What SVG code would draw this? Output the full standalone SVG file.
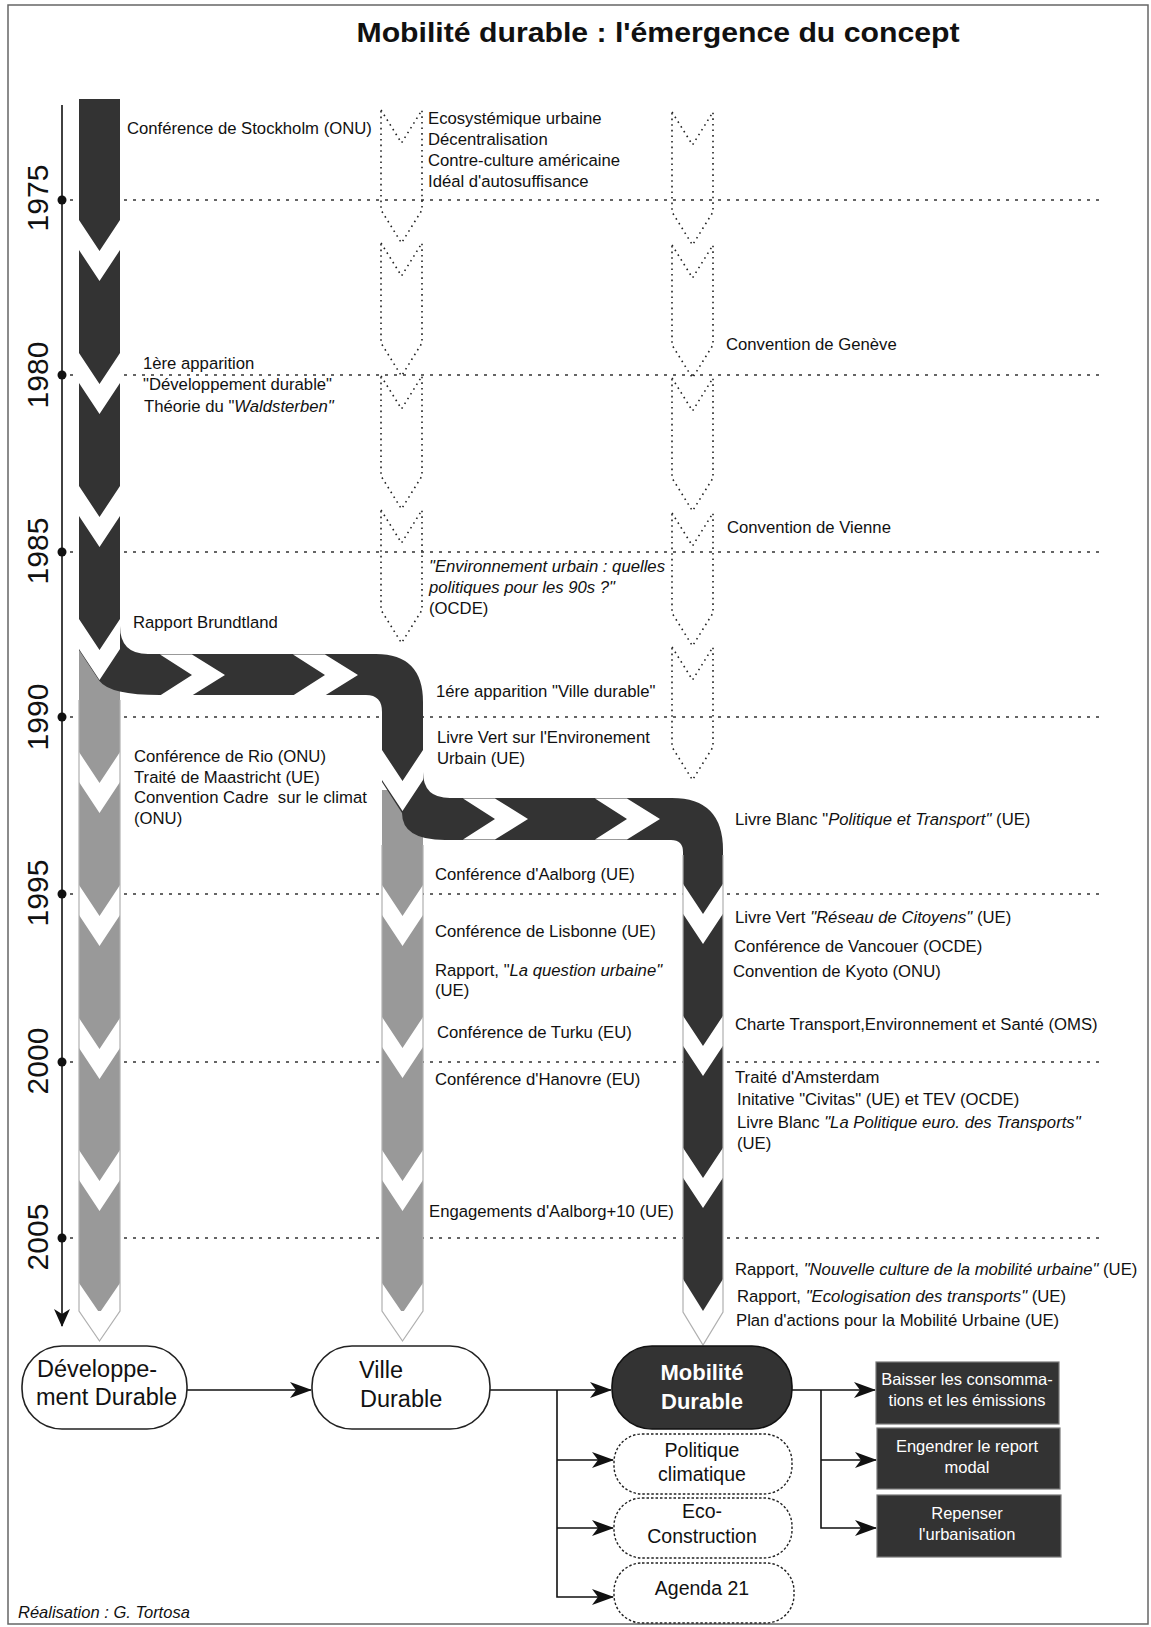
<svg xmlns="http://www.w3.org/2000/svg" xmlns:xlink="http://www.w3.org/1999/xlink" width="1151" height="1627" viewBox="0 0 1151 1627">
<defs>
<style>
text{font-family:"Liberation Sans",Arial,sans-serif;fill:#111;}
.t{font-size:16.7px;}
.i{font-style:italic;}
.yr{font-size:30px;text-anchor:middle;}
.grid{stroke:#333;stroke-width:1.5;stroke-dasharray:3 6;fill:none;}
.dot{fill:none;stroke:#222;stroke-width:1.6;stroke-dasharray:1.6 4;}
.chev{fill:#fff;}
.edge{fill:none;stroke:#b0b0b0;stroke-width:1.2;}
.node{fill:#fff;stroke:#222;stroke-width:1.6;}
.dash{fill:#fff;stroke:#222;stroke-width:1.4;stroke-dasharray:2.5 2;}
.dark{fill:#333;stroke:#777;stroke-width:1.2;}
.nt{font-size:23.5px;}
.ct{font-size:19.5px;text-anchor:middle;}
.bt{font-size:16.5px;text-anchor:middle;fill:#fff;}
.conn{fill:none;stroke:#111;stroke-width:1.6;}
</style>
<path id="chD" d="M-20.5,0 L0,31 L20.5,0 V30 L0,61 L-20.5,30 Z"/>
<path id="chR" d="M0,-20.5 L32,0 L0,20.5 H32 L65,0 L32,-20.5 Z"/>
<path id="ds" d="M-20.5,0 L0,33 L20.5,0 V100 L0,133 L-20.5,100 Z"/>
<marker id="arr" markerUnits="userSpaceOnUse" markerWidth="22" markerHeight="16" refX="21" refY="8" orient="auto">
<path d="M0,0 L22,8 L0,16 L6,8 Z" fill="#111"/>
</marker>
<marker id="arrT" markerUnits="userSpaceOnUse" markerWidth="18" markerHeight="30" refX="17" refY="8" orient="auto">
<path d="M0,0 L18,8 L0,16 L5,8 Z" fill="#111"/>
</marker>
</defs>
<rect x="0" y="0" width="1151" height="1627" fill="#fff"/>
<rect x="8" y="5" width="1140" height="1619" fill="none" stroke="#666" stroke-width="1.5"/>
<text x="658" y="42" textLength="603" lengthAdjust="spacingAndGlyphs" style="font-size:28px;font-weight:bold;text-anchor:middle">Mobilité durable : l'émergence du concept</text>

<g id="grid">
<line class="grid" x1="70" y1="200" x2="1100" y2="200"/>
<line class="grid" x1="70" y1="375" x2="1100" y2="375"/>
<line class="grid" x1="70" y1="552" x2="1100" y2="552"/>
<line class="grid" x1="70" y1="717" x2="1100" y2="717"/>
<line class="grid" x1="70" y1="894" x2="1100" y2="894"/>
<line class="grid" x1="70" y1="1062" x2="1100" y2="1062"/>
<line class="grid" x1="70" y1="1238" x2="1100" y2="1238"/>
</g>

<g id="timeline">
<line x1="62" y1="105" x2="62" y2="1326" stroke="#111" stroke-width="1.6" marker-end="url(#arrT)"/>
<g fill="#111">
<circle cx="62" cy="200" r="4.5"/><circle cx="62" cy="375" r="4.5"/><circle cx="62" cy="552" r="4.5"/>
<circle cx="62" cy="717" r="4.5"/><circle cx="62" cy="894" r="4.5"/><circle cx="62" cy="1062" r="4.5"/>
<circle cx="62" cy="1238" r="4.5"/>
</g>
<text class="yr" transform="translate(48,198) rotate(-90)">1975</text>
<text class="yr" transform="translate(48,375) rotate(-90)">1980</text>
<text class="yr" transform="translate(48,551) rotate(-90)">1985</text>
<text class="yr" transform="translate(48,717) rotate(-90)">1990</text>
<text class="yr" transform="translate(48,893) rotate(-90)">1995</text>
<text class="yr" transform="translate(48,1061) rotate(-90)">2000</text>
<text class="yr" transform="translate(48,1237) rotate(-90)">2005</text>
</g>

<g id="dotted-shapes">
<use href="#ds" class="dot" x="401.5" y="110"/>
<use href="#ds" class="dot" x="401.5" y="243"/>
<use href="#ds" class="dot" x="401.5" y="376"/>
<use href="#ds" class="dot" x="401.5" y="510"/>
<use href="#ds" class="dot" x="692.5" y="112"/>
<use href="#ds" class="dot" x="692.5" y="245"/>
<use href="#ds" class="dot" x="692.5" y="378"/>
<use href="#ds" class="dot" x="692.5" y="513"/>
<use href="#ds" class="dot" x="692.5" y="647"/>
</g>

<g id="flow">
<rect x="79" y="640" width="41" height="671" fill="#999"/>
<rect x="382" y="790" width="41" height="521" fill="#999"/>
<path fill="#333" d="M79,99 H120 V626 Q120,654 148,654 H376 Q423,654 423,702 V772 Q423,798 450,798 H672 Q723,798 723,850 V1312 H683 V852 Q683,840 671,840 H445 Q402,840 402,813 L382,782 V712 Q382,695 366,695 H160 Q110,695 99.5,681 L79,650 Z"/>
<g class="chev">
<use href="#chD" x="99.5" y="220"/><use href="#chD" x="99.5" y="353"/><use href="#chD" x="99.5" y="486"/>
<use href="#chD" x="99.5" y="619"/><use href="#chD" x="99.5" y="752"/><use href="#chD" x="99.5" y="885"/>
<use href="#chD" x="99.5" y="1018"/><use href="#chD" x="99.5" y="1150"/>
<use href="#chD" x="402.5" y="750"/><use href="#chD" x="402.5" y="885"/><use href="#chD" x="402.5" y="1017"/>
<use href="#chD" x="402.5" y="1150"/>
<use href="#chD" x="703" y="883"/><use href="#chD" x="703" y="1015"/><use href="#chD" x="703" y="1147"/>
<use href="#chR" x="160" y="675"/><use href="#chR" x="293" y="675"/>
<use href="#chR" x="463" y="819"/><use href="#chR" x="595" y="819"/>
<path d="M79,1283 L99.5,1313 L120,1283 V1311 L99.5,1341 L79,1311 Z"/>
<path d="M382,1283 L402.5,1313 L423,1283 V1311 L402.5,1341 L382,1311 Z"/>
<path d="M683,1279 L703,1311 L723,1279 V1312 L703,1345 L683,1312 Z"/>
</g>
<path class="edge" d="M79,700 V1311 L99.5,1341 L120,1311 V700"/>
<path class="edge" d="M382,845 V1311 L402.5,1341 L423,1311 V845"/>
<path class="edge" d="M683,855 V1312 L703,1345 L723,1312 V855"/>
</g>

<g id="labels-left">
<text class="t" x="127" y="134">Conférence de Stockholm (ONU)</text>
<text class="t" x="143" y="369">1ère apparition</text>
<text class="t" x="143" y="390">"Développement durable"</text>
<text class="t" x="144" y="412">Théorie du "<tspan class="i">Waldsterben"</tspan></text>
<text class="t" x="133" y="628">Rapport Brundtland</text>
<text class="t" x="134" y="762">Conférence de Rio (ONU)</text>
<text class="t" x="134" y="783">Traité de Maastricht (UE)</text>
<text class="t" x="134" y="803">Convention Cadre&#160; sur le climat</text>
<text class="t" x="134" y="824">(ONU)</text>
</g>

<g id="labels-middle">
<text class="t" x="428" y="124">Ecosystémique urbaine</text>
<text class="t" x="428" y="145">Décentralisation</text>
<text class="t" x="428" y="166">Contre-culture américaine</text>
<text class="t" x="428" y="187">Idéal d'autosuffisance</text>
<text class="t i" x="429" y="572">"Environnement urbain : quelles</text>
<text class="t i" x="429" y="593">politiques pour les 90s ?"</text>
<text class="t" x="429" y="614">(OCDE)</text>
<text class="t" x="436" y="697">1ére apparition "Ville durable"</text>
<text class="t" x="437" y="743">Livre Vert sur l'Environement</text>
<text class="t" x="437" y="764">Urbain (UE)</text>
<text class="t" x="435" y="880">Conférence d'Aalborg (UE)</text>
<text class="t" x="435" y="937">Conférence de Lisbonne (UE)</text>
<text class="t" x="435" y="976">Rapport, "<tspan class="i">La question urbaine"</tspan></text>
<text class="t" x="435" y="996">(UE)</text>
<text class="t" x="437" y="1038">Conférence de Turku (EU)</text>
<text class="t" x="435" y="1085">Conférence d'Hanovre (EU)</text>
<text class="t" x="429" y="1217">Engagements d'Aalborg+10 (UE)</text>
</g>

<g id="labels-right">
<text class="t" x="726" y="350">Convention de Genève</text>
<text class="t" x="727" y="533">Convention de Vienne</text>
<text class="t" x="735" y="825">Livre Blanc "<tspan class="i">Politique et Transport"</tspan> (UE)</text>
<text class="t" x="735" y="923">Livre Vert <tspan class="i">"Réseau de Citoyens"</tspan> (UE)</text>
<text class="t" x="734" y="952">Conférence de Vancouer (OCDE)</text>
<text class="t" x="733" y="977">Convention de Kyoto (ONU)</text>
<text class="t" x="735" y="1030">Charte Transport,Environnement et Santé (OMS)</text>
<text class="t" x="735" y="1083">Traité d'Amsterdam</text>
<text class="t" x="737" y="1105">Initative "Civitas" (UE) et TEV (OCDE)</text>
<text class="t" x="737" y="1128">Livre Blanc <tspan class="i">"La Politique euro. des Transports"</tspan></text>
<text class="t" x="737" y="1149">(UE)</text>
<text class="t" x="735" y="1275">Rapport, <tspan class="i">"Nouvelle culture de la mobilité urbaine"</tspan> (UE)</text>
<text class="t" x="737" y="1302">Rapport, <tspan class="i">"Ecologisation des transports"</tspan> (UE)</text>
<text class="t" x="736" y="1326">Plan d'actions pour la Mobilité Urbaine (UE)</text>
</g>

<g id="connectors">
<path class="conn" d="M187,1390 H311" marker-end="url(#arr)"/>
<path class="conn" d="M490,1390 H611" marker-end="url(#arr)"/>
<path class="conn" d="M557,1390 V1597 H613" marker-end="url(#arr)"/>
<path class="conn" d="M557,1460 H613" marker-end="url(#arr)"/>
<path class="conn" d="M557,1528 H613" marker-end="url(#arr)"/>
<path class="conn" d="M792,1390 H875" marker-end="url(#arr)"/>
<path class="conn" d="M821,1390 V1528 H876" marker-end="url(#arr)"/>
<path class="conn" d="M821,1460 H876" marker-end="url(#arr)"/>
</g>

<g id="node-dev">
<rect class="node" x="22" y="1346" width="165" height="83" rx="40"/>
<text class="nt" x="37" y="1377">Développe-</text>
<text class="nt" x="36" y="1405">ment Durable</text>
</g>
<g id="node-ville">
<rect class="node" x="312" y="1346" width="178" height="83" rx="40"/>
<text class="nt" x="359" y="1378">Ville</text>
<text class="nt" x="360" y="1407">Durable</text>
</g>
<g id="node-mobilite">
<rect x="612" y="1346" width="180" height="83" rx="40" fill="#333" stroke="#111" stroke-width="1.6"/>
<text x="702" y="1380" style="font-size:22px;font-weight:bold;text-anchor:middle;fill:#fff">Mobilité</text>
<text x="702" y="1409" style="font-size:22px;font-weight:bold;text-anchor:middle;fill:#fff">Durable</text>
</g>
<g id="node-politique">
<rect class="dash" x="614" y="1434" width="178" height="60" rx="28"/>
<text class="ct" x="702" y="1457">Politique</text>
<text class="ct" x="702" y="1481">climatique</text>
</g>
<g id="node-eco">
<rect class="dash" x="614" y="1498" width="178" height="60" rx="28"/>
<text class="ct" x="702" y="1518">Eco-</text>
<text class="ct" x="702" y="1543">Construction</text>
</g>
<g id="node-agenda">
<rect class="dash" x="614" y="1563" width="180" height="60" rx="28"/>
<text class="ct" x="702" y="1595">Agenda 21</text>
</g>
<g id="node-baisser">
<rect class="dark" x="876" y="1362" width="183" height="62"/>
<text class="bt" x="967" y="1385">Baisser les consomma-</text>
<text class="bt" x="967" y="1406">tions et les émissions</text>
</g>
<g id="node-engendrer">
<rect class="dark" x="877" y="1428" width="183" height="61"/>
<text class="bt" x="967" y="1452">Engendrer le report</text>
<text class="bt" x="967" y="1473">modal</text>
</g>
<g id="node-repenser">
<rect class="dark" x="877" y="1495" width="184" height="62"/>
<text class="bt" x="967" y="1519">Repenser</text>
<text class="bt" x="967" y="1540">l'urbanisation</text>
</g>

<text x="18" y="1618" style="font-size:16.5px;font-style:italic">Réalisation : G. Tortosa</text>
</svg>
